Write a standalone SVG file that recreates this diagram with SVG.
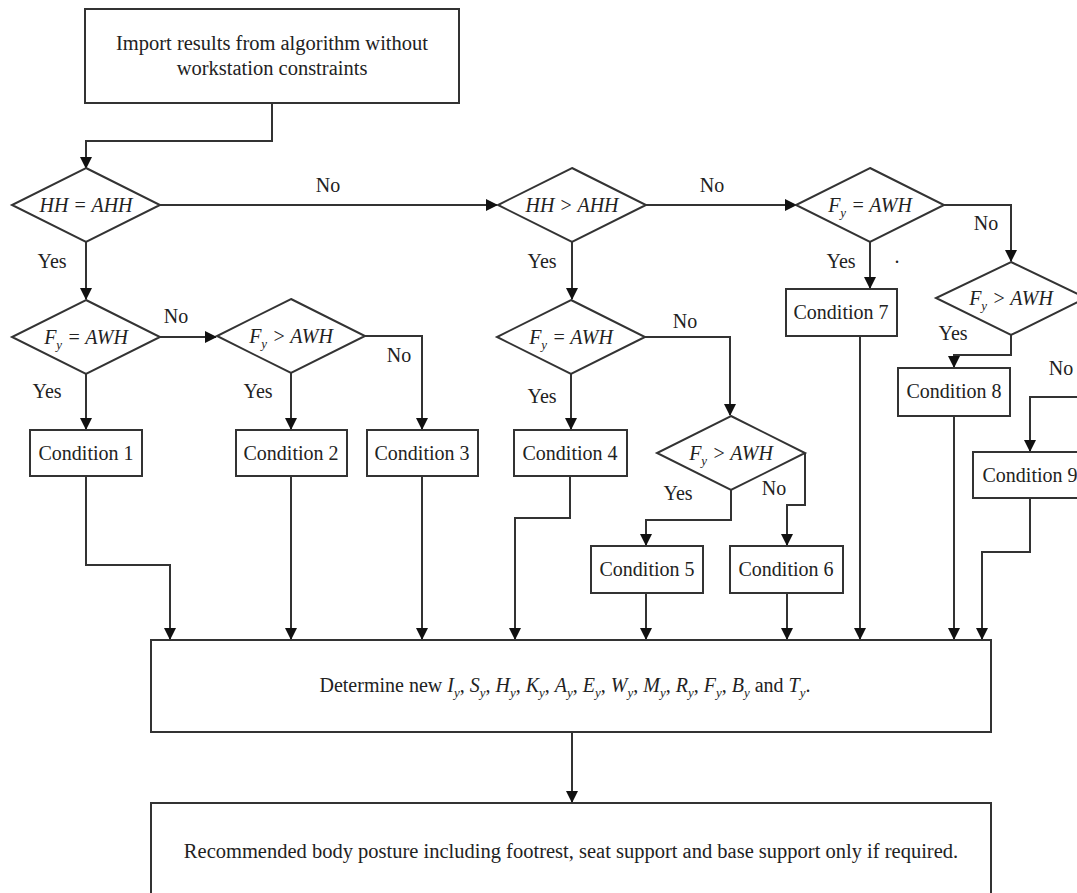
<svg xmlns="http://www.w3.org/2000/svg" width="1077" height="893" viewBox="0 0 1077 893" font-family="Liberation Serif, serif">
<defs>
<marker id="ah" markerWidth="12" markerHeight="12" refX="11" refY="6" orient="auto" markerUnits="userSpaceOnUse">
<path d="M0,0 L12,6 L0,12 Z" fill="#111"/>
</marker>
<style>
.box{fill:#fff;stroke:#333;stroke-width:2}
.dia{fill:#fff;stroke:#333;stroke-width:2}
.ln{fill:none;stroke:#333;stroke-width:2;marker-end:url(#ah)}
text{font-family:'Liberation Serif','DejaVu Serif',serif}
.t{font-size:20px;fill:#222;text-anchor:middle}
.it{font-style:italic}
.sub{font-size:13px;font-style:italic}
.lbl{font-size:20px;fill:#222;text-anchor:middle}
</style>
</defs>
<rect width="1077" height="893" fill="#fff"/>

<g id="connectors">
<path class="ln" d="M272,103 V141 H86 V168"/>
<path class="ln" d="M160,205 H497"/>
<path class="ln" d="M646,205 H796"/>
<path class="ln" d="M944,205 H1011 V261"/>
<path class="ln" d="M86,242 V299"/>
<path class="ln" d="M160,337 H216"/>
<path class="ln" d="M365,336 H422 V429"/>
<path class="ln" d="M291,373 V429"/>
<path class="ln" d="M86,374 V429"/>
<path class="ln" d="M572,242 V299"/>
<path class="ln" d="M645,337 H730 V415"/>
<path class="ln" d="M571,374 V429"/>
<path class="ln" d="M731,490 V520 H646 V545"/>
<path class="ln" d="M805,453 V505 H787 V545"/>
<path class="ln" d="M870,242 V288"/>
<path class="ln" d="M1011,335 V355 H954 V367"/>
<path class="ln" d="M1086,298 H1095 V397 H1030 V451"/>
<path class="ln" d="M86,476 V565 H170 V639"/>
<path class="ln" d="M291,476 V639"/>
<path class="ln" d="M422,476 V639"/>
<path class="ln" d="M570,476 V518 H515 V639"/>
<path class="ln" d="M646,593 V639"/>
<path class="ln" d="M787,593 V639"/>
<path class="ln" d="M860,336 V639"/>
<path class="ln" d="M954,416 V639"/>
<path class="ln" d="M1030,498 V552 H982 V639"/>
<path class="ln" d="M572,732 V802"/>
</g>

<g id="labels">
<text class="lbl" x="328" y="192">No</text>
<text class="lbl" x="52" y="268">Yes</text>
<text class="lbl" x="712" y="192">No</text>
<text class="lbl" x="542" y="268">Yes</text>
<text class="lbl" x="685" y="328">No</text>
<text class="lbl" x="542" y="403">Yes</text>
<text class="lbl" x="986" y="230">No</text>
<text class="lbl" x="841" y="268">Yes</text>
<text class="lbl" x="897" y="263">.</text>
<text class="lbl" x="953" y="340">Yes</text>
<text class="lbl" x="1061" y="375">No</text>
<text class="lbl" x="176" y="323">No</text>
<text class="lbl" x="47" y="398">Yes</text>
<text class="lbl" x="258" y="398">Yes</text>
<text class="lbl" x="399" y="362">No</text>
<text class="lbl" x="678" y="500">Yes</text>
<text class="lbl" x="774" y="495">No</text>
</g>

<g id="start">
<rect class="box" x="85" y="9" width="374" height="94"/>
<text class="t" x="272" y="50" style="font-size:20.5px">Import results from algorithm without</text>
<text class="t" x="272" y="75" style="font-size:20.5px">workstation constraints</text>
</g>

<g id="d1">
<polygon class="dia" points="86,168 160,205 86,242 12,205"/>
<text class="t it" x="86" y="212">HH = AHH</text>
</g>
<g id="d2">
<polygon class="dia" points="572,168 646,205 572,242 498,205"/>
<text class="t it" x="572" y="212">HH &gt; AHH</text>
</g>
<g id="d3">
<polygon class="dia" points="870,168 944,205 870,242 796,205"/>
<text class="t it" x="870" y="212">F<tspan class="sub" dy="5">y</tspan><tspan dy="-5"> = AWH</tspan></text>
</g>
<g id="d4">
<polygon class="dia" points="86,300 160,337 86,374 12,337"/>
<text class="t it" x="86" y="344">F<tspan class="sub" dy="5">y</tspan><tspan dy="-5"> = AWH</tspan></text>
</g>
<g id="d5">
<polygon class="dia" points="1011,262 1086,298 1011,335 936,298"/>
<text class="t it" x="1011" y="305">F<tspan class="sub" dy="5">y</tspan><tspan dy="-5"> &gt; AWH</tspan></text>
</g>
<g id="d6">
<polygon class="dia" points="291,299 365,336 291,373 217,336"/>
<text class="t it" x="291" y="343">F<tspan class="sub" dy="5">y</tspan><tspan dy="-5"> &gt; AWH</tspan></text>
</g>
<g id="d7">
<polygon class="dia" points="571,300 645,337 571,374 497,337"/>
<text class="t it" x="571" y="344">F<tspan class="sub" dy="5">y</tspan><tspan dy="-5"> = AWH</tspan></text>
</g>
<g id="d8">
<polygon class="dia" points="731,416 805,453 731,490 657,453"/>
<text class="t it" x="731" y="460">F<tspan class="sub" dy="5">y</tspan><tspan dy="-5"> &gt; AWH</tspan></text>
</g>

<g id="c1"><rect class="box" x="30" y="430" width="112" height="46"/><text class="t" x="86" y="460">Condition 1</text></g>
<g id="c2"><rect class="box" x="236" y="430" width="111" height="46"/><text class="t" x="291" y="460">Condition 2</text></g>
<g id="c3"><rect class="box" x="367" y="430" width="111" height="46"/><text class="t" x="422" y="460">Condition 3</text></g>
<g id="c4"><rect class="box" x="514" y="430" width="113" height="46"/><text class="t" x="570" y="460">Condition 4</text></g>
<g id="c5"><rect class="box" x="591" y="546" width="112" height="47"/><text class="t" x="647" y="576">Condition 5</text></g>
<g id="c6"><rect class="box" x="730" y="546" width="113" height="47"/><text class="t" x="786" y="576">Condition 6</text></g>
<g id="c7"><rect class="box" x="786" y="289" width="111" height="47"/><text class="t" x="841" y="319">Condition 7</text></g>
<g id="c8"><rect class="box" x="898" y="368" width="112" height="48"/><text class="t" x="954" y="398">Condition 8</text></g>
<g id="c9"><rect class="box" x="973" y="452" width="114" height="46"/><text class="t" x="1030" y="482">Condition 9</text></g>

<g id="determine">
<rect class="box" x="151" y="640" width="840" height="92"/>
<text class="t" x="565" y="692" style="font-size:20px">Determine new <tspan class="it">I</tspan><tspan class="sub" dy="5">y</tspan><tspan dy="-5">, </tspan><tspan class="it">S</tspan><tspan class="sub" dy="5">y</tspan><tspan dy="-5">, </tspan><tspan class="it">H</tspan><tspan class="sub" dy="5">y</tspan><tspan dy="-5">, </tspan><tspan class="it">K</tspan><tspan class="sub" dy="5">y</tspan><tspan dy="-5">, </tspan><tspan class="it">A</tspan><tspan class="sub" dy="5">y</tspan><tspan dy="-5">, </tspan><tspan class="it">E</tspan><tspan class="sub" dy="5">y</tspan><tspan dy="-5">, </tspan><tspan class="it">W</tspan><tspan class="sub" dy="5">y</tspan><tspan dy="-5">, </tspan><tspan class="it">M</tspan><tspan class="sub" dy="5">y</tspan><tspan dy="-5">, </tspan><tspan class="it">R</tspan><tspan class="sub" dy="5">y</tspan><tspan dy="-5">, </tspan><tspan class="it">F</tspan><tspan class="sub" dy="5">y</tspan><tspan dy="-5">, </tspan><tspan class="it">B</tspan><tspan class="sub" dy="5">y</tspan><tspan dy="-5"> and </tspan><tspan class="it">T</tspan><tspan class="sub" dy="5">y</tspan><tspan dy="-5">.</tspan></text>
</g>

<g id="result">
<rect class="box" x="151" y="803" width="840" height="102"/>
<text class="t" x="571" y="858" style="font-size:20.5px">Recommended body posture including footrest, seat support and base support only if required.</text>
</g>
</svg>
